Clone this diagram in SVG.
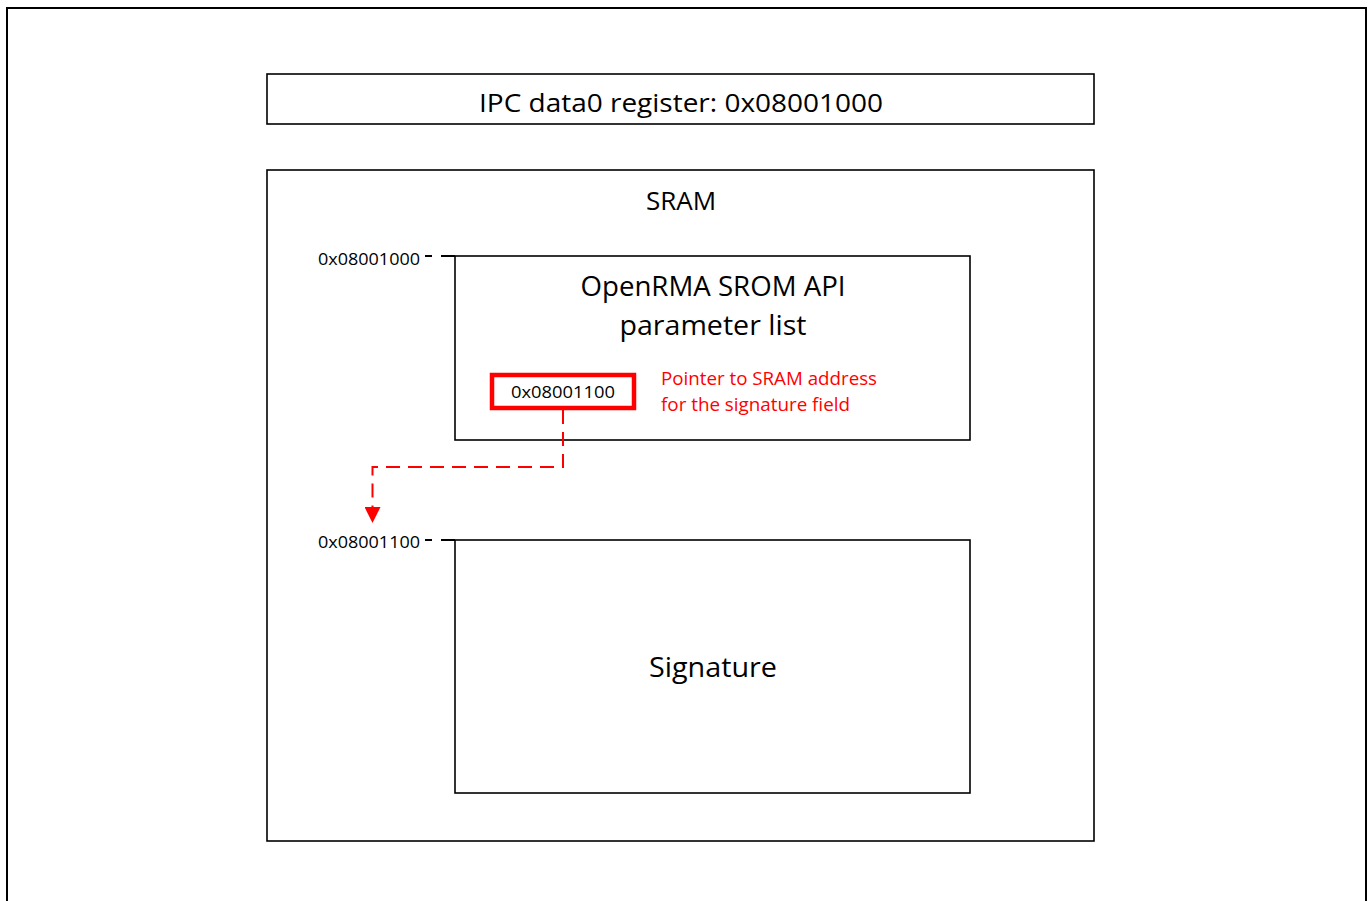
<svg xmlns="http://www.w3.org/2000/svg" width="1370" height="901" viewBox="0 0 1370 901">
<style>
.box{fill:#fff;stroke:#000;stroke-width:1.6}
.t{font-family:"Open Sans","Noto Sans",sans-serif;fill:#000}
.red{fill:#f00;font-family:"Open Sans","Noto Sans",sans-serif}
</style>
<defs>
<marker id="ah" markerWidth="16" markerHeight="16" viewBox="0 0 16 16" refX="16" refY="8" orient="auto" markerUnits="userSpaceOnUse">
<path d="M0,0 L16,8 L0,16 Z" fill="#f00"/>
</marker>
</defs>
<rect width="1370" height="901" fill="#fff"/>
<path d="M7,901 V8 H1366 V901" fill="none" stroke="#000" stroke-width="2"/>
<g id="ipc">
<rect class="box" x="267" y="74" width="827" height="50"/>
<text class="t" x="681" y="112" font-size="26" text-anchor="middle" textLength="404" lengthAdjust="spacingAndGlyphs">IPC data0 register: 0x08001000</text>
</g>
<g id="sram">
<rect class="box" x="267" y="170" width="827" height="671"/>
<text class="t" x="681" y="210" font-size="26" text-anchor="middle">SRAM</text>
</g>
<g id="addr1">
<text class="t" x="420" y="265" font-size="17" text-anchor="end" textLength="102" lengthAdjust="spacingAndGlyphs">0x08001000</text>
<path d="M425,256 H432 M441,256 H455" stroke="#000" stroke-width="2"/>
</g>
<g id="param">
<rect class="box" x="455" y="256" width="515" height="184"/>
<text class="t" x="713" y="296" font-size="27" text-anchor="middle" textLength="265" lengthAdjust="spacingAndGlyphs">OpenRMA SROM API</text>
<text class="t" x="713" y="335" font-size="27" text-anchor="middle" textLength="187" lengthAdjust="spacingAndGlyphs">parameter list</text>
</g>
<g id="ptr">
<rect x="492" y="375" width="142" height="33" fill="#fff" stroke="#f00" stroke-width="4.5"/>
<text class="t" x="563" y="398" font-size="17" text-anchor="middle" textLength="104" lengthAdjust="spacingAndGlyphs">0x08001100</text>
</g>
<g id="note">
<text class="red" x="661" y="385" font-size="18" textLength="216" lengthAdjust="spacingAndGlyphs">Pointer to SRAM address</text>
<text class="red" x="661" y="411" font-size="18" textLength="189" lengthAdjust="spacingAndGlyphs">for the signature field</text>
</g>
<g id="addr2">
<text class="t" x="420" y="548" font-size="17" text-anchor="end" textLength="102" lengthAdjust="spacingAndGlyphs">0x08001100</text>
<path d="M425,540 H432 M441,540 H455" stroke="#000" stroke-width="2"/>
</g>
<g id="sig">
<rect class="box" x="455" y="540" width="515" height="253"/>
<text class="t" x="713" y="677" font-size="27" text-anchor="middle" textLength="128" lengthAdjust="spacingAndGlyphs">Signature</text>
</g>
<g id="connectors">
<path d="M563,410 V467 H372.5 V523" fill="none" stroke="#f00" stroke-width="2" stroke-dasharray="14,8" marker-end="url(#ah)"/>
</g>
</svg>
